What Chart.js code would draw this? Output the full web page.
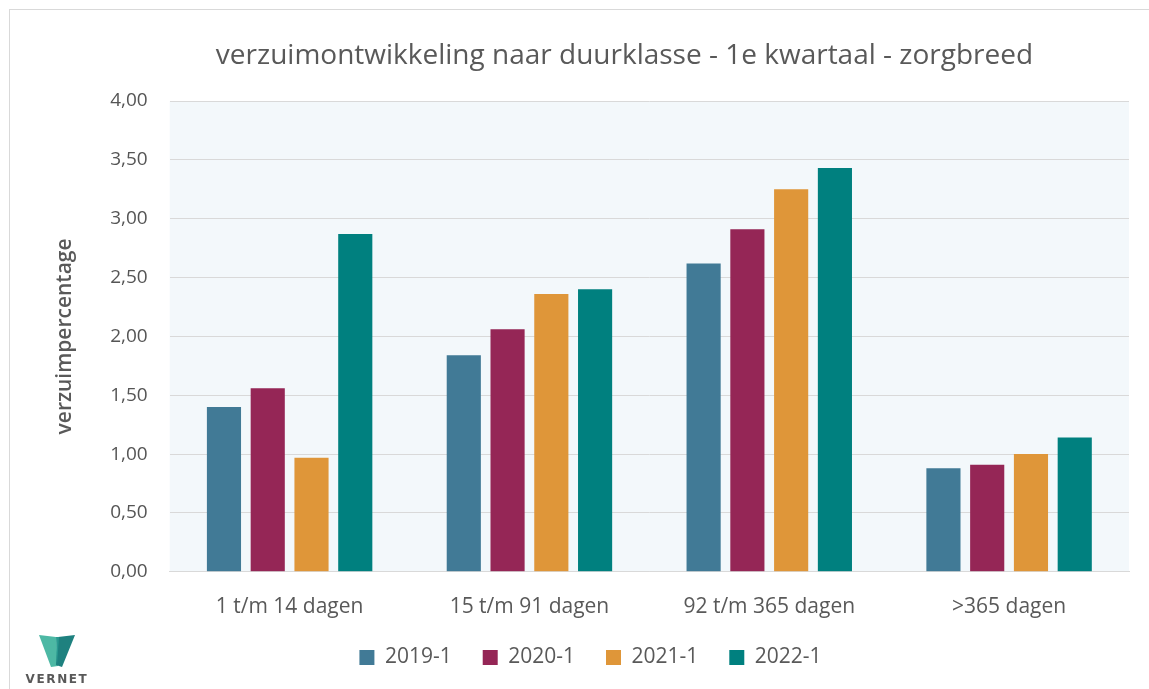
<!DOCTYPE html>
<html>
<head>
<meta charset="utf-8">
<script src="https://cdn.jsdelivr.net/npm/chart.js@4.4.1/dist/chart.umd.min.js"></script>
<style>
  html, body { margin: 0; padding: 0; background: #fff; }
  #wrap { position: relative; width: 1149px; height: 689px; overflow: hidden; }
  #frame { position: absolute; left: 9px; top: 9px; width: 1200px; height: 700px;
           border-left: 1px solid #d9d9d9; border-top: 1px solid #d9d9d9; }
  #title { position: absolute; left: 0; width: 1249px; top: 34px; text-align: center;
           font-family: "Open Sans", sans-serif; font-size: 28px; color: #595959; }
  #logo { position: absolute; left: 24px; top: 632px; }
  canvas { position: absolute; left: 0; top: 0; }
</style>
</head>
<body>
<div id="wrap">
  <div id="frame"></div>
  <canvas id="chart" width="1149" height="678"></canvas>
  <div id="title">verzuimontwikkeling naar duurklasse - 1e kwartaal - zorgbreed</div>
  <svg id="logo" width="68" height="56" viewBox="0 0 68 56">
    <polygon points="15,3 32,5 34,34 27,35" fill="#4db8a4"/>
    <polygon points="34,5 51,3 38,35 32,33" fill="#1e817f"/>
    <polygon points="32,5 35,5 33,32" fill="#2a9a90"/>
    <text x="33" y="51" text-anchor="middle" font-family="DejaVu Sans, sans-serif" font-size="12" font-weight="bold" letter-spacing="1.6" fill="#595959">VERNET</text>
  </svg>
</div>
<script>
// categories (duurklassen)
const categories = ['1 t/m 14 dagen', '15 t/m 91 dagen', '92 t/m 365 dagen', '>365 dagen'];

// series per kwartaal
const seriesLabels = ['2019-1', '2020-1', '2021-1', '2022-1'];
const values2019 = [1.40, 1.84, 2.62, 0.88];
const values2020 = [1.56, 2.06, 2.91, 0.91];
const values2021 = [0.97, 2.36, 3.25, 1.00];
const values2022 = [2.87, 2.40, 3.43, 1.14];
const seriesColors = ['#417a96', '#952656', '#df9639', '#00807f'];

const allValues = [values2019, values2020, values2021, values2022];

// how far the legend is pulled up under the category labels
const LEGEND_OVERLAP = 19;

// light plot background
const plotBackground = {
    id: 'plotBackground',
    beforeDraw(chart) {
        const { ctx, chartArea } = chart;
        ctx.save();
        ctx.fillStyle = '#f3f8fb';
        ctx.fillRect(chartArea.left, chartArea.top, chartArea.right - chartArea.left, chartArea.bottom - chartArea.top);
        ctx.restore();
    }
};

// x axis was shrunk in afterFit, give its labels their clip room back
const labelRoom = {
    id: 'labelRoom',
    afterLayout(chart) {
        chart.scales.x.bottom += LEGEND_OVERLAP;
    }
};

const ctx = document.getElementById('chart').getContext('2d');
new Chart(ctx, {
    type: 'bar',
    data: {
        labels: categories,
        datasets: seriesLabels.map((label, i) => ({
            label: label,
            data: allValues[i],
            backgroundColor: seriesColors[i],
            borderWidth: 0,
            barPercentage: 0.78,
            categoryPercentage: 0.73
        }))
    },
    options: {
        responsive: false,
        animation: false,
        layout: { padding: { top: 101, left: 52, right: 20, bottom: 0 } },
        scales: {
            x: {
                grid: { display: false },
                border: { display: true, color: '#d9d9d9' },
                ticks: { color: '#595959', font: { family: 'Open Sans', size: 21 }, padding: 15 },
                afterFit: scale => { scale.height -= LEGEND_OVERLAP; }
            },
            y: {
                min: 0,
                max: 4,
                ticks: {
                    stepSize: 0.5,
                    color: '#555555',
                    font: { family: 'Open Sans', size: 19 },
                    padding: 22,
                    callback: v => v.toFixed(2).replace('.', ',')
                },
                grid: { color: '#d9d9d9', drawTicks: false },
                border: { display: false },
                title: {
                    display: true,
                    text: 'verzuimpercentage',
                    color: '#595959',
                    font: { family: 'Open Sans', size: 21, weight: '600' },
                    padding: { top: 0, bottom: 11 }
                }
            }
        },
        plugins: {
            legend: {
                position: 'bottom',
                labels: {
                    color: '#595959',
                    font: { family: 'Open Sans', size: 21 },
                    boxWidth: 15,
                    boxHeight: 15,
                    padding: 31
                }
            },
            tooltip: { enabled: false }
        }
    },
    plugins: [plotBackground, labelRoom]
});
</script>
</body>
</html>
